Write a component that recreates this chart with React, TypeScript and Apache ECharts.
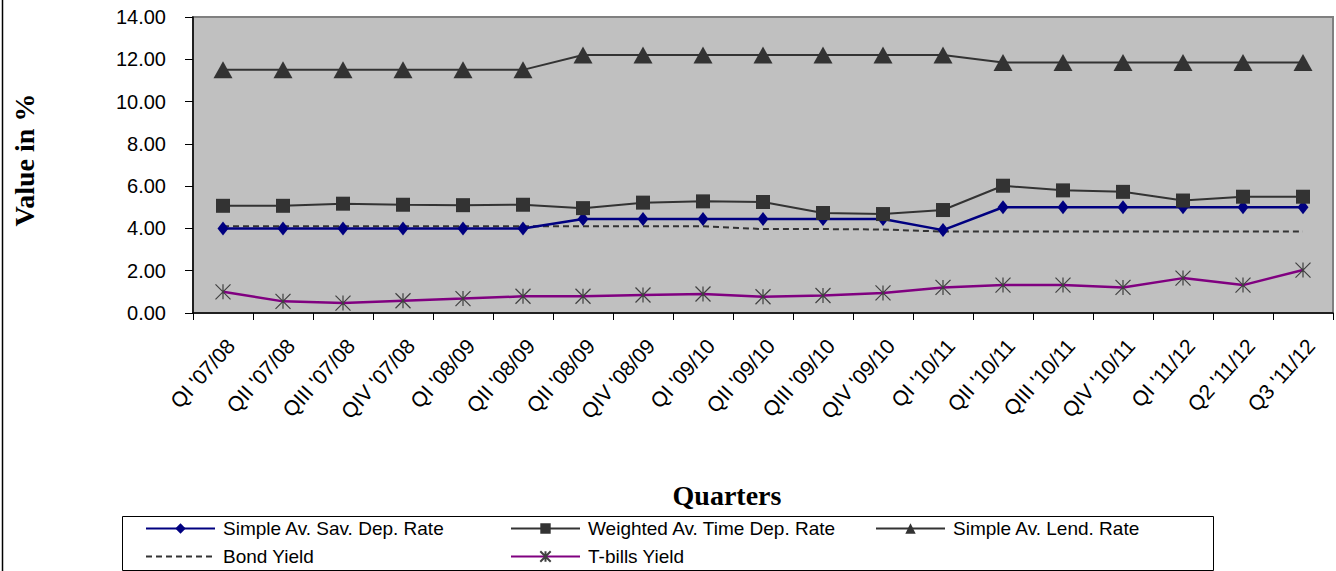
import React, { useEffect, useRef } from "react";
import * as echarts from "echarts";

const categories = [
  "QI '07/08", "QII '07/08", "QIII '07/08", "QIV '07/08",
  "QI '08/09", "QII '08/09", "QII '08/09", "QIV '08/09",
  "QI '09/10", "QII '09/10", "QIII '09/10", "QIV '09/10",
  "QI '10/11", "QII '10/11", "QIII '10/11", "QIV '10/11",
  "QI '11/12", "Q2 '11/12", "Q3 '11/12",
];

const savDepRate = [4.0, 4.0, 4.0, 4.0, 4.0, 4.0, 4.45, 4.45, 4.45, 4.45, 4.45, 4.45, 3.92, 5.0, 5.0, 5.0, 5.0, 5.0, 5.0];
const timeDepRate = [5.07, 5.07, 5.17, 5.12, 5.1, 5.12, 4.96, 5.22, 5.28, 5.25, 4.73, 4.68, 4.87, 6.02, 5.8, 5.73, 5.32, 5.5, 5.5];
const lendRate = [11.5, 11.5, 11.5, 11.5, 11.5, 11.5, 12.2, 12.2, 12.2, 12.2, 12.2, 12.2, 12.2, 11.85, 11.85, 11.85, 11.85, 11.85, 11.85];
const bondYield = [4.1, 4.1, 4.1, 4.1, 4.1, 4.1, 4.1, 4.1, 4.1, 3.97, 3.97, 3.95, 3.85, 3.85, 3.85, 3.85, 3.85, 3.85, 3.85];
const tBillsYield = [1.0, 0.55, 0.47, 0.58, 0.68, 0.79, 0.79, 0.85, 0.9, 0.77, 0.83, 0.95, 1.21, 1.32, 1.32, 1.21, 1.65, 1.32, 2.03];

const yTicks = { min: 0, max: 14, interval: 2 };

const SANS = "'Liberation Sans', Arial, sans-serif";
const SERIF = "'Liberation Serif', 'Times New Roman', serif";

const ASTERISK = "path://M5,0L5,10M0,0L10,10M0,10L10,0";

export default function App() {
  const ref = useRef<HTMLDivElement>(null);

  useEffect(() => {
    if (!ref.current) return;
    const chart = echarts.init(ref.current, null, { renderer: "svg" });

    const legendCommon = {
      padding: 0,
      itemWidth: 69,
      itemHeight: 13,
      itemGap: 0,
      selectedMode: false,
      textStyle: { fontSize: 19, fontFamily: SANS, color: "#000", padding: [0, 0, 0, 3] },
    };

    const option: any = {
      animation: false,
      backgroundColor: "#ffffff",
      grid: {
        left: 193,
        top: 17,
        right: 3,
        bottom: 258,
        show: true,
        backgroundColor: "#C0C0C0",
        borderColor: "#808080",
        borderWidth: 2,
        containLabel: false,
        outerBoundsMode: "none",
      },
      xAxis: {
        type: "category",
        data: categories,
        boundaryGap: true,
        axisLine: { lineStyle: { color: "#000", width: 1.5 } },
        axisTick: { show: true, length: 7, lineStyle: { color: "#000", width: 1 } },
        axisLabel: {
          rotate: 48,
          interval: 0,
          fontSize: 21,
          fontFamily: SANS,
          color: "#000",
          margin: 22,
          verticalAlign: "top",
        },
        splitLine: { show: false },
      },
      yAxis: {
        type: "value",
        min: yTicks.min,
        max: yTicks.max,
        interval: yTicks.interval,
        axisLine: { show: true, lineStyle: { color: "#000", width: 1.5 } },
        axisTick: { show: true, length: 8, lineStyle: { color: "#000", width: 1 } },
        axisLabel: {
          fontSize: 20,
          fontFamily: SANS,
          color: "#000",
          margin: 27,
          formatter: (v: number) => v.toFixed(2),
        },
        splitLine: { show: false },
      },
      legend: [
        { ...legendCommon, data: ["Simple Av. Sav. Dep. Rate"], left: 145, top: 519 },
        { ...legendCommon, data: ["Weighted Av. Time Dep. Rate"], left: 510, top: 519 },
        { ...legendCommon, data: ["Simple Av. Lend. Rate"], left: 875, top: 519 },
        {
          ...legendCommon,
          data: [{ name: "Bond Yield", itemStyle: { opacity: 0 } }],
          left: 145,
          top: 547,
        },
        { ...legendCommon, data: ["T-bills Yield"], left: 510, top: 547 },
      ],
      series: [
        {
          name: "Bond Yield",
          type: "line",
          data: bondYield,
          symbol: "none",
          lineStyle: { color: "#333333", width: 2, type: [6, 4] },
          itemStyle: { color: "#333333" },
          z: 2,
        },
        {
          name: "Simple Av. Sav. Dep. Rate",
          type: "line",
          data: savDepRate,
          symbol: "diamond",
          symbolSize: [11, 14],
          lineStyle: { color: "#000080", width: 2.5 },
          itemStyle: { color: "#000080" },
          z: 3,
        },
        {
          name: "Weighted Av. Time Dep. Rate",
          type: "line",
          data: timeDepRate,
          symbol: "rect",
          symbolSize: 14,
          lineStyle: { color: "#333333", width: 2 },
          itemStyle: { color: "#333333" },
          z: 4,
        },
        {
          name: "Simple Av. Lend. Rate",
          type: "line",
          data: lendRate,
          symbol: "triangle",
          symbolSize: [19, 17],
          lineStyle: { color: "#333333", width: 2 },
          itemStyle: { color: "#333333" },
          z: 4,
        },
        {
          name: "T-bills Yield",
          type: "line",
          data: tBillsYield,
          symbol: ASTERISK,
          symbolSize: 15,
          lineStyle: { color: "#800080", width: 2.5 },
          itemStyle: { color: "transparent", borderColor: "#404040", borderWidth: 1.2 },
          z: 5,
        },
      ],
      graphic: [
        {
          type: "line",
          shape: { x1: 2.5, y1: 0, x2: 2.5, y2: 571 },
          style: { stroke: "#000", lineWidth: 1.5 },
          silent: true,
        },
        {
          type: "rect",
          shape: { x: 122.5, y: 516.5, width: 1091, height: 54 },
          style: { fill: "none", stroke: "#000", lineWidth: 1 },
          silent: true,
        },
        {
          type: "text",
          x: 24,
          y: 160,
          rotation: Math.PI / 2,
          style: {
            text: "Value in %",
            font: `bold 28px ${SERIF}`,
            fill: "#000",
            align: "center",
            verticalAlign: "middle",
          },
          silent: true,
        },
        {
          type: "text",
          x: 727,
          y: 495,
          style: {
            text: "Quarters",
            font: `bold 28px ${SERIF}`,
            fill: "#000",
            align: "center",
            verticalAlign: "middle",
          },
          silent: true,
        },
      ],
    };

    chart.setOption(option);
    return () => chart.dispose();
  }, []);

  return (
    <div
      ref={ref}
      style={{ position: "fixed", left: 0, top: 0, width: 1336, height: 571 }}
    />
  );
}
